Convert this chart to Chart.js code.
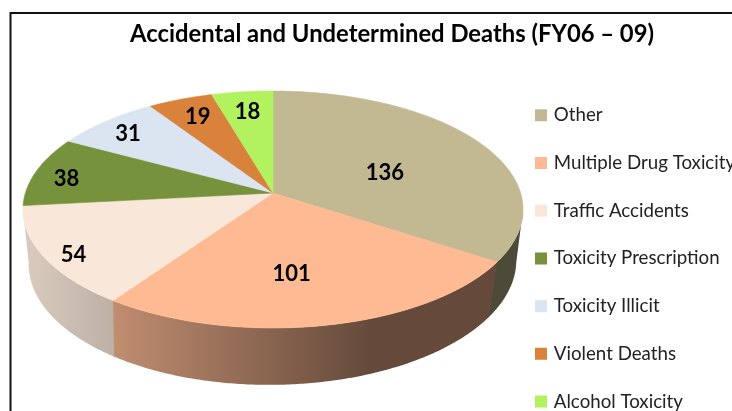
<!DOCTYPE html>
<html>
<head>
<meta charset="utf-8">
<script src="https://cdn.jsdelivr.net/npm/chart.js@4/dist/chart.umd.min.js"></script>
<style>html,body{margin:0;padding:0;background:#fff;overflow:hidden}canvas{display:block}</style>
</head>
<body>
<canvas id="c" width="732" height="411"></canvas>
<script>
const categories = ["Other","Multiple Drug Toxicity","Traffic Accidents","Toxicity Prescription","Toxicity Illicit","Violent Deaths","Alcohol Toxicity"];
const deaths = [136,101,54,38,31,19,18];
const colours = ["#c2b992","#fdba93","#f9e8d9","#76923c","#dbe5f1","#d9823b","#b3f25f"];
const titleText = "Accidental and Undetermined Deaths (FY06 \u2013 09)";
const labelNudge = [[-14,11.5],[-12,6.5],[-66,24.5],[-63,-0.5],[-41,-15],[-17,-17],[-6,-17.5]];

// perspective disc: apex position and projective constants
const view = {ax:273, ay:193, A:247.6, B:116.2, k:0.139, wallW:0.025, wallD:53.8, wallSkew:-4, edge:0.139};
const wallShade = [[22,.88],[114,.76],[370,.40],[523,.40]];

function topPt(a,r=1){
  const x=r*Math.cos(a), y=r*Math.sin(a), w=1-view.k*y;
  return [view.ax+view.A*x/w, view.ay+view.B*y/w];
}
function lowPt(a){
  const x=Math.cos(a), y=Math.sin(a), w=1-view.k*y+view.wallW;
  return [view.ax+view.A*x/w+view.wallSkew*y, view.ay+(view.B*y+view.wallD)/w];
}
function hexRgb(h){return [1,3,5].map(i=>parseInt(h.substr(i,2),16));}
function angles(a0,a1){
  const n=Math.max(2,Math.ceil((a1-a0)/0.01)), out=[];
  for(let i=0;i<=n;i++) out.push(a0+(a1-a0)*i/n);
  return out;
}

const perspectivePie = {
  id:'perspectivePie',
  beforeDraw(chart){
    const c=chart.ctx;
    c.save();
    c.strokeStyle='#111'; c.lineWidth=2;
    c.beginPath(); c.moveTo(10.5,411); c.lineTo(10.5,13); c.lineTo(732,13); c.stroke();
    c.restore();
  },
  afterLayout(chart){
    const l=chart.legend, p=l.options.labels.padding;
    l.left=537.5-p; l.right=732; l.top=106-p; l.bottom=600; l.width=l.right-l.left; l.height=l.bottom-l.top;
  },
  beforeDatasetDraw(chart,args){
    const c=chart.ctx, arcs=chart.getDatasetMeta(args.index).data;
    c.save();
    arcs.forEach((arc,i)=>{
      // only the part of the rim that faces the viewer has a visible wall
      const a0=Math.max(arc.startAngle,view.edge), a1=Math.min(arc.endAngle+0.006,Math.PI-view.edge);
      if(a1<=a0) return;
      const as=angles(a0,a1), rgb=hexRgb(colours[i]);
      const g=c.createLinearGradient(wallShade[0][0],0,wallShade[3][0],0);
      wallShade.forEach(([x,b])=>g.addColorStop((x-wallShade[0][0])/(wallShade[3][0]-wallShade[0][0]),
        `rgb(${rgb.map(v=>Math.round(v*b)).join(',')})`));
      c.fillStyle=g;
      c.beginPath();
      as.forEach((a,j)=>{const p=topPt(a); j?c.lineTo(p[0],p[1]):c.moveTo(p[0],p[1]);});
      as.slice().reverse().forEach(a=>{const p=lowPt(a); c.lineTo(p[0],p[1]);});
      c.closePath(); c.fill();
    });
    arcs.forEach((arc,i)=>{
      c.beginPath(); c.moveTo(view.ax,view.ay);
      angles(arc.startAngle,arc.endAngle).forEach(a=>{const p=topPt(a); c.lineTo(p[0],p[1]);});
      c.closePath(); c.fillStyle=colours[i]; c.strokeStyle=colours[i]; c.lineWidth=.6; c.fill(); c.stroke();
    });
    c.font='bold 22px Lato'; c.fillStyle='#000'; c.textAlign='center'; c.textBaseline='middle';
    arcs.forEach((arc,i)=>{
      const p=topPt((arc.startAngle+arc.endAngle)/2,0.6);
      c.fillText(String(deaths[i]),p[0]+labelNudge[i][0],p[1]+labelNudge[i][1]);
    });
    c.restore();
    return false;
  }
};

new Chart(document.getElementById('c'),{
  type:'pie',
  data:{labels:categories,datasets:[{data:deaths,backgroundColor:colours,borderColor:colours,borderWidth:5}]},
  plugins:[perspectivePie],
  options:{
    responsive:false,animation:false,
    layout:{padding:{left:52}},
    plugins:{
      tooltip:{enabled:false},
      title:{display:true,text:titleText,color:'#000',font:{family:'Lato',size:23.8,weight:'bold'},padding:{top:20,bottom:8}},
      legend:{position:'right',align:'start',labels:{color:'#222',font:{family:'Lato',size:18.7},boxWidth:7,boxHeight:7,padding:29}}
    }
  }
});
</script>
</body>
</html>
